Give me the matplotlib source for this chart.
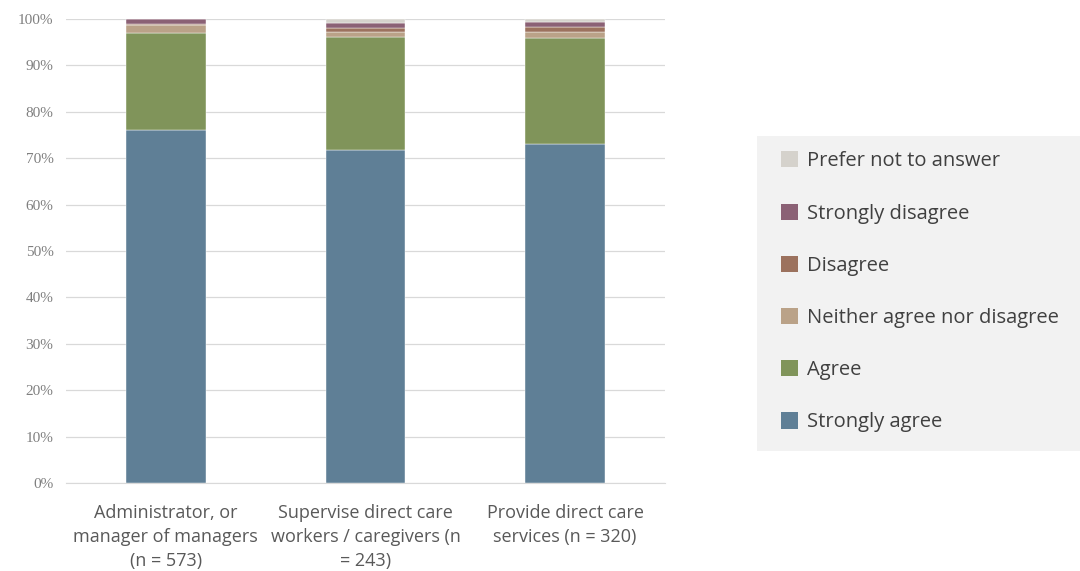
import matplotlib.pyplot as plt
import numpy as np
from matplotlib.patches import Patch

categories = [
    "Administrator, or\nmanager of managers\n(n = 573)",
    "Supervise direct care\nworkers / caregivers (n\n= 243)",
    "Provide direct care\nservices (n = 320)",
]
series_names = [
    "Strongly agree",
    "Agree",
    "Neither agree nor disagree",
    "Disagree",
    "Strongly disagree",
    "Prefer not to answer",
]
strongly_agree = [76.0, 71.8, 73.1]
agree = [21.0, 24.4, 22.8]
neither = [1.8, 1.0, 1.3]
disagree = [0.2, 0.8, 1.1]
strongly_disagree = [1.0, 1.2, 1.0]
prefer_not = [0.0, 0.8, 0.7]

colors = ["#5F7F96", "#80945A", "#BAA288", "#9C725E", "#8B6175", "#D5D2CC"]

series = [strongly_agree, agree, neither, disagree, strongly_disagree, prefer_not]

fig = plt.figure(figsize=(10.8, 5.71), dpi=100)
ax = fig.add_axes([66 / 1080, 1 - 483 / 571, 599 / 1080, 464 / 571])

x = np.arange(len(categories))
bottom = np.zeros(len(categories))
for name, vals, col in zip(series_names, series, colors):
    vals = np.array(vals)
    ax.bar(x, vals, 0.4, bottom=bottom, color=col, label=name, zorder=3,
           edgecolor="white", linewidth=0.3)
    bottom += vals

ax.set_xlim(-0.5, 2.5)
ax.set_ylim(0, 100)
ax.set_yticks(np.arange(0, 101, 10))
ax.set_yticklabels([f"{v}%" for v in range(0, 101, 10)],
                   fontfamily="Liberation Serif", fontsize=11, color="#7F7F7F")
ax.set_xticks(x)
ax.set_xticklabels(categories, fontfamily="Open Sans", fontsize=13, color="#595959",
                   linespacing=1.42)
ax.tick_params(axis="both", length=0)
ax.tick_params(axis="x", pad=15)
ax.tick_params(axis="y", pad=9)
ax.grid(axis="y", color="#D9D9D9", linewidth=0.9, zorder=0)
for side in ["top", "right", "left"]:
    ax.spines[side].set_visible(False)
ax.spines["bottom"].set_color("#D9D9D9")

# legend panel
lax = fig.add_axes([757 / 1080, 1 - 451 / 571, 323 / 1080, 315 / 571])
lax.set_facecolor("#F2F2F2")
lax.set_xticks([])
lax.set_yticks([])
for s in lax.spines.values():
    s.set_visible(False)
handles = [Patch(facecolor=c, label=n) for n, c in zip(series_names, colors)][::-1]
lax.legend(handles=handles, loc="center left", bbox_to_anchor=(24 / 323, 0.505),
           frameon=False, prop={"family": "Open Sans", "size": 14.5},
           labelcolor="#404040", handlelength=0.85, handleheight=0.85,
           handletextpad=0.45, labelspacing=1.6, borderaxespad=0, borderpad=0)

fig.savefig("out.png", dpi=100)
